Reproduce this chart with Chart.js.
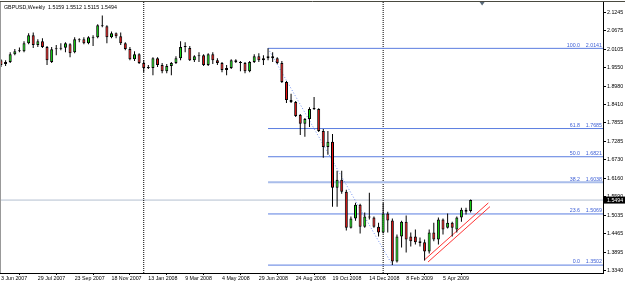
<!DOCTYPE html>
<html><head><meta charset="utf-8">
<script src="https://cdn.jsdelivr.net/npm/chart.js@4.4.0/dist/chart.umd.min.js"></script>
<style>html,body{margin:0;padding:0;background:#fff;overflow:hidden}</style>
</head><body>
<canvas id="c" width="625" height="284"></canvas>
<script>
// ---- data (weekly GBPUSD, bar index 0 = week of 3 Jun 2007) ----
const opens  = [1.978,1.966,1.972,1.996,2.005,2.005,2.030,2.054,2.024,2.036,2.018,1.972,2.011,2.013,2.016,2.027,2.002,2.042,2.042,2.030,2.048,2.048,2.085,2.082,2.048,2.060,2.051,2.030,2.012,1.981,1.996,1.969,1.954,1.954,1.984,1.963,1.944,1.960,1.969,1.984,2.018,2.015,1.978,1.990,1.993,1.963,1.996,1.978,1.969,1.948,1.954,1.978,1.972,1.969,1.944,1.972,1.990,1.978,1.984,1.990,1.984,1.969,1.911,1.856,1.850,1.810,1.783,1.798,1.828,1.828,1.761,1.712,1.728,1.587,1.612,1.575,1.465,1.493,1.535,1.468,1.499,1.496,1.468,1.450,1.508,1.487,1.361,1.438,1.483,1.438,1.438,1.423,1.420,1.392,1.450,1.429,1.490,1.465,1.480,1.459,1.496,1.520,1.5159];
const highs  = [1.981,1.978,2.002,2.012,2.017,2.036,2.060,2.063,2.042,2.045,2.021,2.018,2.024,2.030,2.033,2.030,2.048,2.045,2.048,2.051,2.054,2.088,2.115,2.085,2.066,2.063,2.063,2.033,2.018,2.005,1.999,1.978,1.963,1.987,1.987,1.969,1.966,1.972,1.990,2.036,2.033,2.021,1.993,2.002,1.996,1.999,2.002,1.984,1.972,1.963,1.981,1.981,1.975,1.972,1.975,1.996,1.999,1.993,2.0141,2.002,1.987,1.975,1.914,1.875,1.853,1.813,1.801,1.834,1.865,1.831,1.767,1.761,1.752,1.639,1.639,1.581,1.499,1.541,1.538,1.511,1.572,1.499,1.480,1.541,1.514,1.493,1.444,1.486,1.502,1.450,1.459,1.435,1.429,1.459,1.480,1.496,1.493,1.508,1.483,1.499,1.526,1.526,1.5512];
const lows   = [1.957,1.960,1.969,1.993,2.002,2.002,2.027,2.015,2.018,2.015,1.963,1.969,1.993,2.008,2.002,1.987,1.999,2.033,2.027,2.027,2.021,2.045,2.079,2.030,2.045,2.045,2.024,2.008,1.978,1.975,1.966,1.941,1.951,1.932,1.957,1.938,1.938,1.932,1.966,1.978,2.002,1.975,1.972,1.972,1.960,1.960,1.966,1.963,1.941,1.932,1.951,1.969,1.944,1.938,1.941,1.969,1.972,1.963,1.978,1.972,1.966,1.908,1.847,1.847,1.804,1.749,1.743,1.773,1.825,1.758,1.679,1.688,1.529,1.529,1.569,1.456,1.462,1.486,1.447,1.465,1.490,1.465,1.438,1.447,1.450,1.3502,1.358,1.404,1.389,1.407,1.413,1.407,1.364,1.386,1.423,1.413,1.444,1.462,1.438,1.450,1.483,1.505,1.5115];
const closes = [1.963,1.972,1.996,2.005,2.008,2.030,2.054,2.024,2.036,2.018,1.978,2.011,2.013,2.016,2.030,1.999,2.042,2.039,2.030,2.048,2.045,2.085,2.082,2.048,2.060,2.051,2.030,2.012,1.981,1.996,1.969,1.954,1.957,1.984,1.963,1.944,1.960,1.969,1.984,2.018,2.021,1.978,1.990,1.993,1.963,1.996,1.978,1.969,1.948,1.954,1.978,1.972,1.969,1.944,1.972,1.990,1.978,1.984,1.990,1.984,1.969,1.911,1.856,1.850,1.807,1.783,1.798,1.828,1.831,1.761,1.712,1.728,1.587,1.612,1.575,1.465,1.493,1.535,1.468,1.499,1.496,1.468,1.450,1.508,1.487,1.361,1.438,1.483,1.429,1.423,1.420,1.418,1.392,1.450,1.429,1.490,1.459,1.480,1.465,1.496,1.520,1.514,1.5494];

const dateTickIdx = [0,8,16,24,32,40,48,56,64,72,80,88,96];
const dateLabels = ['3 Jun 2007','29 Jul 2007','23 Sep 2007','18 Nov 2007','13 Jan 2008','9 Mar 2008','4 May 2008','29 Jun 2008','24 Aug 2008','19 Oct 2008','14 Dec 2008','8 Feb 2009','5 Apr 2009'];
const priceTicks = [2.1245,2.0675,2.0105,1.9550,1.8980,1.8410,1.7855,1.7285,1.6730,1.6160,1.5590,1.5035,1.4465,1.3895,1.3340];

const fibLevels = ['100.0','61.8','50.0','38.2','23.6','0.0'];
const fibPrices = [2.0141,1.7685,1.6821,1.6038,1.5069,1.3502];
const fibStartIdx = 58, fibEndIdx = 85;
const separatorIdx = [31, 83];
const channelA = [[91.9,1.3653],[105.84,1.5406]];
const channelB = [[92.75,1.3598],[106.2,1.5293]];
const shiftIdx = 104.5;
const title = 'GBPUSD,Weekly  1.5159 1.5512 1.5115 1.5494';

const xMin = -0.217, xMax = 130.75;
const yMin = 1.32603, yMax = 2.15605;
const lastClose = closes[closes.length-1];

// ---- build ----
const FONT = '"Liberation Sans", Arial, sans-serif';
const FS = 5.3;
const idx = closes.map((_, i) => i);
const bodyData = idx.map(i => ({x: i, y: [opens[i], closes[i]]}));
const wickData = idx.map(i => ({x: i, y: [lows[i], highs[i]]}));
const bodyColors = idx.map(i => closes[i] >= opens[i] ? '#10e010' : '#ee1010');

const lineDs = (pts, color, width, dash, order) => ({
  type: 'line', data: pts.map(p => ({x: p[0], y: p[1]})), borderColor: color, borderWidth: width,
  borderDash: dash || [], pointRadius: 0, fill: false, order: order, tension: 0
});

const datasets = [
  {type:'bar', data: bodyData, backgroundColor: bodyColors, borderColor:'#000', borderWidth:1,
   borderSkipped:false, barThickness:3, minBarLength:1, inflateAmount:0, grouped:false, order:1},
  {type:'bar', data: wickData, backgroundColor:'#000', borderWidth:0, barThickness:1,
   inflateAmount:0, grouped:false, order:2},
  lineDs([[xMin,lastClose],[xMax,lastClose]], '#b3bfd0', 1, null, 5),
  lineDs([[fibStartIdx,fibPrices[0]],[fibEndIdx,fibPrices[5]]], '#6f8ff0', 1, [1,2], 4),
  lineDs(channelA, '#ff3333', 1, null, 3),
  lineDs(channelB, '#ff3333', 1, null, 3),
];
fibPrices.forEach((p, k) => {
  const light = fibLevels[k] === '38.2';
  datasets.push(lineDs([[fibStartIdx,p],[xMax,p]], light ? '#a9bdea' : '#5a7de0', light ? 2 : 1, null, 4));
});
separatorIdx.forEach(s => datasets.push(lineDs([[s,yMin],[s,yMax]], '#000', 1, [1,1], 4)));

const overlay = {
  id: 'overlay',
  afterDraw(chart) {
    const ctx = chart.ctx, xs = chart.scales.x, ys = chart.scales.y, ca = chart.chartArea;
    ctx.save();
    // frame
    ctx.strokeStyle = '#4a4a40'; ctx.lineWidth = 1;
    ctx.beginPath(); ctx.moveTo(0, 1.5); ctx.lineTo(625, 1.5); ctx.stroke();
    ctx.strokeStyle = '#999'; ctx.beginPath(); ctx.moveTo(0.5, ca.top); ctx.lineTo(0.5, ca.bottom); ctx.stroke();
    // title
    ctx.font = FS + 'px ' + FONT; ctx.fillStyle = '#000'; ctx.textAlign = 'left'; ctx.textBaseline = 'middle';
    ctx.fillText(title, 4, 8);
    // fib labels
    ctx.fillStyle = '#3d5fd6'; ctx.textBaseline = 'bottom';
    fibPrices.forEach((p, k) => {
      const y = ys.getPixelForValue(p) - 0.5;
      ctx.textAlign = 'right';
      ctx.fillText(fibLevels[k], 580, y);
      ctx.fillText(p.toFixed(4), 602, y);
    });
    // price box
    const py = ys.getPixelForValue(lastClose);
    ctx.fillStyle = '#000'; ctx.fillRect(604, py - 3.5, 21, 7);
    ctx.fillStyle = '#fff'; ctx.textAlign = 'left'; ctx.textBaseline = 'middle';
    ctx.fillText(lastClose.toFixed(4), 607, py + 0.3);
    // chart shift marker
    const mx = xs.getPixelForValue(shiftIdx);
    ctx.fillStyle = '#5a6a7a';
    ctx.beginPath(); ctx.moveTo(mx - 2.5, 2); ctx.lineTo(mx + 2.5, 2); ctx.lineTo(mx, 5.5); ctx.closePath(); ctx.fill();
    ctx.restore();
  }
};

Chart.defaults.font.family = FONT;
new Chart(document.getElementById('c'), {
  data: { datasets },
  options: {
    responsive: false, animation: false, devicePixelRatio: 1,
    layout: { padding: { top: 2, left: 0, right: 0, bottom: 0 } },
    plugins: { legend: {display:false}, tooltip: {enabled:false} },
    scales: {
      x: {
        type: 'linear', min: xMin, max: xMax, offset: false,
        grid: { drawOnChartArea:false, drawTicks:true, tickLength:2, color:'#000' },
        border: { display:true, color:'#000' },
        ticks: { autoSkip:false, maxRotation:0, minRotation:0, align:'start', padding:0,
                 font:{size:FS}, color:'#000',
                 callback: (v) => { const k = dateTickIdx.indexOf(v); return k >= 0 ? dateLabels[k] : ''; } },
        afterBuildTicks: (s) => { s.ticks = dateTickIdx.map(v => ({value: v})); },
        afterFit: (s) => { s.height = 11; s.paddingLeft = 0; s.paddingRight = 0; }
      },
      y: {
        type: 'linear', position: 'right', min: yMin, max: yMax,
        grid: { drawOnChartArea:false, drawTicks:true, tickLength:3, color:'#000' },
        border: { display:true, color:'#000' },
        ticks: { padding:1, font:{size:FS}, color:'#000', callback: (v) => Number(v).toFixed(4) },
        afterBuildTicks: (s) => { s.ticks = priceTicks.map(v => ({value: v})); },
        afterFit: (s) => { s.width = 22; s.paddingTop = 0; s.paddingBottom = 0; }
      }
    }
  },
  plugins: [overlay]
});
</script>
</body></html>
